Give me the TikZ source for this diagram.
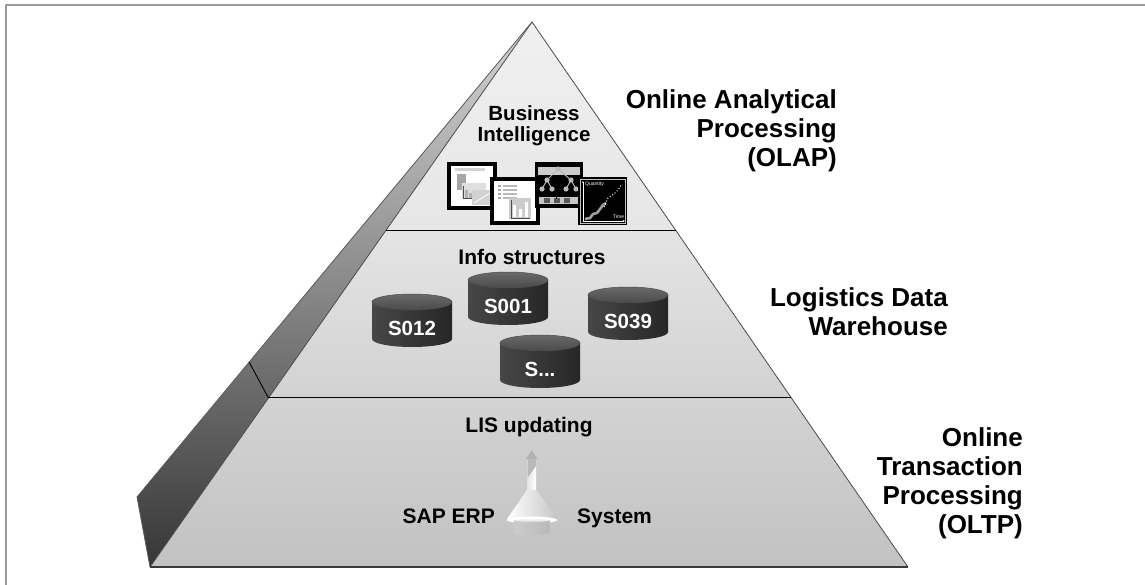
\documentclass[tikz,border=0pt]{standalone}
\usepackage{fontspec}
\setmainfont{Liberation Sans}
\usetikzlibrary{calc,arrows.meta}

\definecolor{framegray}{HTML}{9A9A9A}
\definecolor{edgegray}{HTML}{4A4A4A}
\definecolor{tierAtop}{HTML}{F0F0F0}
\definecolor{tierAbot}{HTML}{E6E6E6}
\definecolor{tierBtop}{HTML}{E4E4E4}
\definecolor{tierBbot}{HTML}{D2D2D2}
\definecolor{tierCtop}{HTML}{D3D3D3}
\definecolor{tierCbot}{HTML}{C2C2C2}
\definecolor{sidetop}{HTML}{D6D6D6}
\definecolor{sidebot}{HTML}{363636}
\definecolor{diskbodyL}{HTML}{474747}
\definecolor{diskbodyR}{HTML}{262626}
\definecolor{disktopA}{HTML}{6A6A6A}
\definecolor{disktopB}{HTML}{4A4A4A}

% one info-structure disk: name, centre x, top y, label
\newcommand{\infodisk}[4]{%
  \shade[left color=diskbodyL, right color=diskbodyR]
    (#2-40,#3+8) -- (#2-40,#3+45)
    arc[start angle=180, end angle=0, x radius=40, y radius=8]
    -- (#2+40,#3+8) -- cycle;
  \shade[top color=disktopA, bottom color=disktopB, draw=gray!60!black, line width=0.5]
    (#2,#3+8) ellipse[x radius=40, y radius=8];
  \node[disktxt] (#1) at (#2,#3+34) {#4};
}

\begin{document}
\begin{tikzpicture}[x=1pt, y=-1pt,
  bigtxt/.style={font=\bfseries\fontsize{26}{29}\selectfont, inner sep=0pt, align=right},
  midtxt/.style={font=\bfseries\fontsize{21}{21}\selectfont, inner sep=0pt, align=center},
  disktxt/.style={font=\bfseries\fontsize{20.5}{20}\selectfont, inner sep=0pt, text=white},
  edge/.style={draw=edgegray, line width=0.8},
  divider/.style={draw=black, line width=1}]
\useasboundingbox (0,0) rectangle (1145,585);

% frame
\draw[framegray, line width=2] (6,585) -- (6,5) -- (1145,5);

% pyramid corners
\coordinate (apex) at (532,22);
\coordinate (bl) at (150,567);
\coordinate (br) at (908,567);
\coordinate (back) at (137,497);
\coordinate (l1) at ($(apex)!0.3817!(bl)$);
\coordinate (r1) at ($(apex)!0.3817!(br)$);
\coordinate (l2) at ($(apex)!0.6899!(bl)$);
\coordinate (r2) at ($(apex)!0.6899!(br)$);
\coordinate (c2) at ($(apex)!0.716!(back)$);

% side face
\shade[top color=sidetop, bottom color=sidebot] (apex) -- (back) -- (bl) -- cycle;
\draw[edge, draw=gray!70!black] (apex) -- (back) -- (bl);

% front face, three tiers
\shade[top color=tierAtop, bottom color=tierAbot] (apex) -- (r1) -- (l1) -- cycle;
\shade[top color=tierBtop, bottom color=tierBbot] (l1) -- (r1) -- (r2) -- (l2) -- cycle;
\shade[top color=tierCtop, bottom color=tierCbot] (l2) -- (r2) -- (br) -- (bl) -- cycle;
\draw[edge] (bl) -- (apex) -- (br);
\draw[draw=gray!45!black, line width=1.3] (bl) -- (br);
\draw[divider] (l1) -- (r1);
\draw[divider] (l2) -- (r2);
\draw[divider, line width=0.9] (l2) -- (c2);

% right-hand labels
\node[bigtxt, anchor=north east] (olap) at (837,89) {Online Analytical\\Processing\\(OLAP)};
\node[bigtxt, anchor=north east] (ldw) at (948,287) {Logistics Data\\Warehouse};
\node[bigtxt, anchor=north east] (oltp) at (1023,427) {Online\\Transaction\\Processing\\(OLTP)};

% top tier: business intelligence
\node[midtxt, font=\bfseries\fontsize{20.5}{21}\selectfont, anchor=north] (bi) at (534,105) {Business\\Intelligence};

% report icon 1
\fill[black] (447,162) rectangle (497,210);
\fill[white] (451,166) rectangle (493,206);
\fill[gray!35] (455,168) rectangle (485,171);
\fill[gray!70] (457,174) rectangle (466,190);
\fill[gray!25] (462,183) rectangle (486,199);
\fill[gray!60] (465,190) rectangle (467.5,198);
\fill[gray!60] (469,193) rectangle (471.5,198);
\draw[gray!60!black, line width=1] (463,186) -- (463,199) -- (474,199);
\fill[gray!35] (472,190) rectangle (492,205);
\draw[white, line width=0.8] (474,203) -- (490,193);

% report icon 2
\fill[black] (490,177) rectangle (540,225);
\fill[white] (494,181) rectangle (536,221);
\foreach \r in {185,189,193,197}{
  \fill[gray!70] (498,\r) rectangle (501,\r+2);
  \fill[gray!55] (503,\r) rectangle (517,\r+2);
}
\fill[gray!40] (509,198) rectangle (531,219);
\fill[white] (513,205) rectangle (516,217);
\fill[white] (519,209) rectangle (522,217);
\fill[white] (525,202) rectangle (528,217);
\draw[gray!60!black, line width=0.8] (511,200) -- (511,218) -- (530,218);

% tree icon
\fill[black] (535,162) rectangle (583,208);
\fill[gray!40] (538,167) rectangle (580,175);
\draw[gray!55, line width=1] (558,169) -- (547,180) (558,169) -- (571,180)
  (547,180) -- (542,189) (547,180) -- (552,189)
  (571,180) -- (566,189) (571,180) -- (576,189);
\foreach \p in {(558,169),(547,180),(571,180),(542,189),(552,189),(566,189),(576,189)}
  \fill[gray!55] \p circle[radius=2.6];
\fill[gray!45] (539,197) rectangle (579,204);
\foreach \q in {544,554,564}
  \fill[gray!70!black] (\q,198) rectangle (\q+6,203);
\draw[black, line width=0.8] (556,192) -- (556,199) (552.5,195.5) -- (559.5,195.5);

% chart icon
\fill[black] (578,177) rectangle (627,225);
\draw[gray!50, line width=0.6] (580,179) rectangle (625,223);
\draw[white, line width=0.7, -{Latex[length=2pt,width=2pt]}] (583,221) -- (583,181);
\draw[white, line width=0.7, -{Latex[length=2pt,width=2pt]}] (583,221) -- (625,221);
\node[font=\fontsize{5}{5}\selectfont, text=white, inner sep=0pt, anchor=west] (qty) at (585,184) {Quantity};
\node[font=\fontsize{5}{5}\selectfont, text=white, inner sep=0pt, anchor=west] (tme) at (613,217) {Time};
\draw[gray!75, line width=2.6, line join=round] (585,219) -- (590,218) -- (593,214) -- (597,213) -- (600,209) -- (603,205) -- (606,203);
\draw[white, dotted, line width=1] (604,207) -- (608,198) -- (614,194) -- (618,190) -- (622,184);

% middle tier: info structures
\node[midtxt, anchor=north] (info) at (532,249) {Info structures};
\infodisk{s012}{412}{294}{S012}
\infodisk{s001}{508}{272}{S001}
\infodisk{s039}{628}{287}{S039}
\infodisk{sdots}{540}{335}{S...}

% bottom tier: LIS updating
\node[midtxt, anchor=north] (lis) at (529,417) {LIS updating};
\node[midtxt, anchor=north east] (sap) at (495,509) {SAP ERP};
\node[midtxt, anchor=north west] (sys) at (577,509) {System};

% update funnel
\fill[gray!60] (526,459) -- (531.75,450) -- (537.5,459) -- cycle;
\shade[left color=gray!20, right color=white] (527.5,459) rectangle (536,491);
\fill[gray!55] (527.5,459) -- (536,459) -- (536,466) -- (527.5,478) -- cycle;
\shade[left color=white, right color=gray!45] (527,490) -- (536.5,490) -- (557,519) -- (507,519) -- cycle;
\fill[white] (532,520) ellipse[x radius=25, y radius=3.5];
\shade[left color=gray!40, middle color=gray!30, right color=gray!55]
  (514,520) -- (514,532) arc[start angle=180, end angle=0, x radius=18, y radius=3] -- (550,520) -- cycle;
\fill[gray!15] (532,520.5) ellipse[x radius=18, y radius=1.2];
\end{tikzpicture}
\end{document}
